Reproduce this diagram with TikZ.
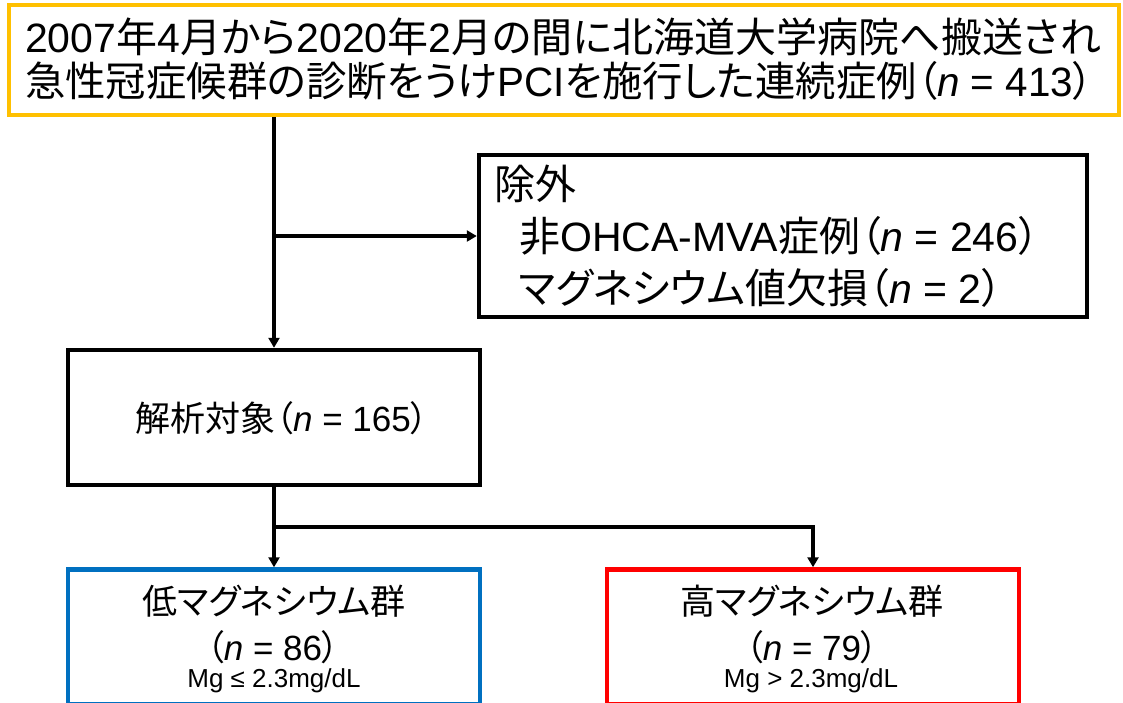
\documentclass[tikz,border=0pt]{standalone}
\usepackage{fontspec}
\usepackage{graphicx}
\setmainfont{Liberation Sans}
\newfontfamily\jp[RawFeature=+palt]{Noto Sans CJK JP}
\usetikzlibrary{arrows.meta}
\definecolor{cOrange}{HTML}{FFC000}
\definecolor{cBlue}{HTML}{0070C0}
\definecolor{cRed}{HTML}{FF0000}
\tikzset{
  box/.style={draw, line width=4.5pt, inner sep=0pt, fill=white},
  conn/.style={line width=3.5pt, draw=black},
  arr/.style={conn, -{Triangle[width=11pt,length=10pt]}},
  big/.style={inner sep=0pt, font=\fontsize{41}{44}\selectfont},
  mid/.style={inner sep=0pt, font=\fontsize{41}{44}\selectfont},
  med/.style={inner sep=0pt, font=\fontsize{35}{40}\selectfont},
  sml/.style={inner sep=0pt, font=\fontsize{26}{28}\selectfont},
}
\begin{document}
\begin{tikzpicture}[x=1pt, y=-1pt]
\useasboundingbox (0,0) rectangle (1123,702);
\clip (0,0) rectangle (1123,702);
\fill[white] (0,0) rectangle (1123,702);

% boxes
\node[box, draw=cOrange, line width=4pt, minimum width=1110pt, minimum height=110pt] (top) at (564,60) {};
\node[box, minimum width=608pt, minimum height=162pt] (excl) at (783,236) {};
\node[box, minimum width=412pt, minimum height=135pt] (ana) at (274,417.5) {};
\node[box, draw=cBlue, minimum width=412pt, minimum height=135pt] (low) at (274,637) {};
\node[box, draw=cRed, minimum width=412pt, minimum height=135pt] (high) at (813,637) {};

% texts
\node[big, anchor=base west] (t1) at (25,52) {2007{\jp 年}4{\jp 月から}2020{\jp 年}2{\jp 月の間に北海道大学病院へ搬送され}};
\node[big, anchor=base west] (t2) at (25,96) {\scalebox{0.985}[1]{{\jp 急性冠症候群の診断をうけ}PCI{\jp を施行した連続症例（}\textit{n} = 413{\jp ）}}};

\node[mid, anchor=base west] (e1) at (494,199) {{\jp 除外}};
\node[mid, anchor=base west] (e2) at (519,251) {{\jp 非}OHCA-MVA{\jp 症例（}\textit{n} = 246{\jp ）}};
\node[mid, anchor=base west] (e3) at (519,303) {{\jp マグネシウム値欠損（}\textit{n} = 2{\jp ）}};

\node[med] (a1) at (282,418) {{\jp 解析対象（}\textit{n} = 165{\jp ）}};

\node[med] (l1) at (274,601) {{\jp 低マグネシウム群}};
\node[med] (l2) at (273,647) {{\jp （}\textit{n} = 86{\jp ）}};
\node[sml] (l3) at (274,681) {Mg ≤ 2.3mg/dL};

\node[med] (h1) at (812,601) {{\jp 高マグネシウム群}};
\node[med] (h2) at (812,647) {{\jp （}\textit{n} = 79{\jp ）}};
\node[sml] (h3) at (811,681) {Mg > 2.3mg/dL};

% connectors
\coordinate (s1) at (ana.north |- top.south);
\draw[arr] (s1) -- (ana.north);
\coordinate (b1) at (ana.north |- excl.west);
\draw[arr] (b1) -- (excl.west);
\draw[arr] (ana.south) -- (low.north);
\coordinate (b2) at (274,527);
\draw[arr] (b2) -| (high.north);
\end{tikzpicture}
\end{document}
